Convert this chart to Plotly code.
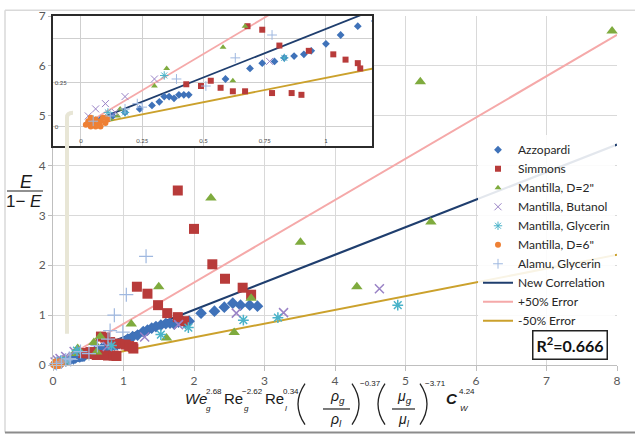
import plotly.graph_objects as go

# ---------------- data ----------------
azz_x = [0.03,0.08,0.13,0.18,0.24,0.29,0.32,0.34,0.36,0.38,0.40,0.42,0.44,0.59,0.69,0.74,0.79,0.83,0.87,0.91,
         0.94,1.00,1.06,1.13,1.20,1.28,1.34,1.40,1.46,1.53,1.60,1.66,1.72,1.78,1.83,1.88,1.93,2.10,2.29,2.43,
         2.55,2.66,2.79,2.90]
azz_y = [0.02,0.04,0.06,0.08,0.10,0.12,0.14,0.17,0.17,0.16,0.18,0.18,0.18,0.27,0.33,0.36,0.37,0.39,0.40,0.41,
         0.43,0.47,0.52,0.57,0.60,0.67,0.70,0.74,0.77,0.80,0.83,0.84,0.82,0.86,0.89,0.84,0.88,1.04,1.08,1.16,
         1.24,1.20,1.20,1.18]

sim_x = [0.43,0.49,0.53,0.57,0.62,0.67,0.68,0.74,0.78,0.81,0.86,0.90,0.93,1.03,1.08,1.13,1.14,1.19,1.34,1.49,
         1.62,1.77,1.86,1.77,2.00,2.26,2.44,2.69,2.81]
sim_y = [0.24,0.23,0.26,0.22,0.20,0.20,0.57,0.55,0.19,0.46,0.19,0.18,0.43,0.41,0.38,0.36,0.33,1.57,1.43,1.20,
         1.04,0.96,0.88,3.50,2.73,2.02,1.73,1.55,1.41]

m2_x = [0.12,0.15,0.16,0.30,0.35,0.58,0.62,0.67,1.11,1.50,1.61,2.24,2.57,2.81,3.51,4.31,5.21,5.36,7.93]
m2_y = [0.04,0.06,0.10,0.23,0.33,0.45,0.26,0.57,0.82,1.57,0.54,3.35,0.65,1.34,2.46,1.57,5.68,2.87,6.70]

but_x = [0.03,0.06,0.10,0.14,0.18,0.30,0.77,1.30,1.78,2.60,3.27,4.63]
but_y = [0.06,0.10,0.13,0.08,0.17,0.27,0.37,0.56,0.81,1.04,1.05,1.53]

gly_x = [0.05,0.11,0.18,0.34,0.83,1.53,1.92,2.70,3.19,4.89]
gly_y = [0.04,0.08,0.08,0.29,0.39,0.61,0.75,0.90,0.95,1.20]

m6_x = [0.02,0.03,0.04,0.05,0.06,0.07,0.08,0.09,0.10,0.11,0.04,0.06,0.08,0.10]
m6_y = [0.01,0.03,0.00,0.02,0.04,0.01,0.03,0.05,0.02,0.04,0.05,0.00,0.00,0.05]

ala_x = [0.05,0.12,0.18,0.23,0.25,0.39,0.51,0.63,0.78,0.81,0.87,0.99,1.04,1.32]
ala_y = [0.03,0.06,0.10,0.13,0.11,0.27,0.23,0.39,0.52,0.69,1.00,0.66,1.41,2.18]

line_x = [0.05, 8.0]
corr_y = [0.03, 4.42]
plus_y = [0.04, 6.62]
minus_y = [0.014, 2.21]

main_ticks = [0, 1, 2, 3, 4, 5, 6, 7, 8]
inset_xticks = [0, 0.25, 0.5, 0.75, 1]
inset_xtext = ["0", "0.25", "0.5", "0.75", "1"]
inset_yticks = [0, 0.25, 0.5]
inset_ytext = ["0", "0.25", ""]

# ---------------- styles ----------------
FONT = "Lato, 'Liberation Sans', sans-serif"
markers = [
    ("Azzopardi", azz_x, azz_y, "diamond", "#3f72b9", 9, 6, 0),
    ("Simmons", sim_x, sim_y, "square", "#b83b3a", 10, 6, 0),
    ("Mantilla, D=2\"", m2_x, m2_y, "triangle-up", "#7fab3e", 10, 6, 0),
    ("Mantilla, Butanol", but_x, but_y, "x-thin-open", "#9a83c6", 9, 7, 1.5),
    ("Mantilla, Glycerin", gly_x, gly_y, "asterisk-open", "#4ab3c9", 9, 7, 1.5),
    ("Mantilla, D=6\"", m6_x, m6_y, "circle", "#ee8035", 8, 6, 0),
    ("Alamu, Glycerin", ala_x, ala_y, "cross-thin-open", "#9fb8e0", 10, 7, 1.2),
]
lines = [
    ("New Correlation", corr_y, "#1f3e6e", 2.2),
    ("+50% Error", plus_y, "#f5a9a9", 2.0),
    ("-50% Error", minus_y, "#cba12c", 2.0),
]

fig = go.Figure()

# main chart
for name, ys, col, w in lines:
    fig.add_trace(go.Scatter(x=line_x, y=ys, mode="lines", name=name, showlegend=False,
                             line=dict(color=col, width=w)))
for name, xs, ys, sym, col, sz, isz, lw in markers:
    mk = dict(symbol=sym, size=sz, color=col)
    if lw:
        mk["line"] = dict(width=lw, color=col)
    fig.add_trace(go.Scatter(x=xs, y=ys, mode="markers", name=name, marker=mk,
                             cliponaxis=False, showlegend=False))

# inset (same data, zoomed) - its traces carry the legend entries (small symbols)
for i, (name, ys, col, w) in enumerate(lines):
    fig.add_trace(go.Scatter(x=line_x, y=ys, mode="lines", name=name, legendrank=100 + i,
                             line=dict(color=col, width=1.8), xaxis="x2", yaxis="y2"))
for i, (name, xs, ys, sym, col, sz, isz, lw) in enumerate(markers):
    mk = dict(symbol=sym, size=isz, color=col)
    if lw:
        mk["line"] = dict(width=1, color=col)
    fig.add_trace(go.Scatter(x=xs, y=ys, mode="markers", name=name, marker=mk, legendrank=10 + i,
                             xaxis="x2", yaxis="y2"))

# ---------------- layout helpers (pixel -> paper) ----------------
L, R, T, B = 53, 617, 8, 365
def X(p):
    return (p - L) / (R - L)
def Y(p):
    return (B - p) / (B - T)

ann = []
shapes = []

def txt(s, px, py, size, anchor="left", color="#1a1a1a", family="'Liberation Sans', Arial, sans-serif"):
    ann.append(dict(text=s, x=X(px), y=Y(py), xref="paper", yref="paper", showarrow=False,
                    xanchor=anchor, yanchor="middle",
                    font=dict(size=size, color=color, family=family)))

def paren(x_end, x_mid, y0, y1):
    cx = 2 * x_mid - x_end
    ym = (y0 + y1) / 2
    shapes.append(dict(type="path", xref="paper", yref="paper",
                       path=f"M {X(x_end)},{Y(y0)} Q {X(cx)},{Y(ym)} {X(x_end)},{Y(y1)}",
                       line=dict(color="#222", width=1.3)))

def hline(x0, x1, py, color="#222", width=1.2):
    shapes.append(dict(type="line", xref="paper", yref="paper", x0=X(x0), x1=X(x1),
                       y0=Y(py), y1=Y(py), line=dict(color=color, width=width)))

# x-axis title formula
txt("<i>We</i>", 183, 399, 15)
txt("2.68", 204, 392, 8)
txt("<i>g</i>", 204, 409, 8)
txt("Re", 222, 399, 15)
txt("−2.62", 240, 392, 8)
txt("<i>g</i>", 242, 409, 8)
txt("Re", 263, 399, 15)
txt("0.34", 281, 392, 8)
txt("<i>l</i>", 283, 409, 8)
paren(305, 298, 384, 426)
txt("<i>ρ<sub>g</sub></i>", 337, 398, 14, anchor="center")
hline(323, 350, 410)
txt("<i>ρ<sub>l</sub></i>", 336, 421, 14, anchor="center")
paren(352, 359, 384, 426)
txt("−0.37", 358, 384, 8)
paren(385, 378, 384, 426)
txt("<i>μ<sub>g</sub></i>", 404, 398, 14, anchor="center")
hline(392, 415, 410)
txt("<i>μ<sub>l</sub></i>", 404, 421, 14, anchor="center")
paren(420, 427, 384, 426)
txt("−3.71", 423, 384, 8)
txt("<i><b>C</b></i>", 444, 399, 15)
txt("4.24", 457, 392, 8)
txt("<i>W</i>", 458, 409, 8)

# y-axis title
txt("<i>E</i>", 26, 178, 18, anchor="center")
hline(7, 43, 187, width=1.2)
txt("1− <i>E</i>", 24, 198, 17, anchor="center")

# R^2 box
ann.append(dict(text="<b>R<sup>2</sup>=0.666</b>", x=X(570), y=Y(345), xref="paper", yref="paper",
                showarrow=False, xanchor="center", yanchor="middle",
                font=dict(size=16, color="#111", family=FONT),
                bordercolor="#222", borderwidth=1.5, borderpad=3, bgcolor="white"))

# beige artefact bar
shapes.append(dict(type="path", xref="paper", yref="paper", layer="above",
                   path=f"M {X(67)},{Y(333)} L {X(67)},{Y(112)} Q {X(67)},{Y(107)} {X(73)},{Y(107)}",
                   line=dict(color="#e8e6d6", width=4)))

# outer frame of the picture
shapes.append(dict(type="line", xref="paper", yref="paper", x0=X(5), x1=X(640), y0=Y(2), y1=Y(2),
                   line=dict(color="#d9d9d9", width=1.5)))
shapes.append(dict(type="line", xref="paper", yref="paper", x0=X(5), x1=X(5), y0=Y(2), y1=Y(434),
                   line=dict(color="#d9d9d9", width=1.5)))
shapes.append(dict(type="line", xref="paper", yref="paper", x0=X(5), x1=X(640), y0=Y(434), y1=Y(434),
                   line=dict(color="#8c8c8c", width=2)))

fig.update_layout(
    width=635, height=437,
    margin=dict(l=L, r=635 - R, t=T, b=437 - B),
    paper_bgcolor="white", plot_bgcolor="white",
    font=dict(family=FONT, size=12, color="#595959"),
    xaxis=dict(range=[0, 8], tickvals=main_ticks, showgrid=True, gridcolor="#d9d9d9", gridwidth=1,
               zeroline=False, showline=True, linecolor="#bfbfbf", ticks="outside", ticklen=5,
               tickcolor="#bfbfbf", tickfont=dict(size=12, color="#595959")),
    yaxis=dict(range=[0, 7], tickvals=main_ticks[:8], showgrid=True, gridcolor="#d9d9d9", gridwidth=1,
               zeroline=False, showline=True, linecolor="#bfbfbf", ticks="outside", ticklen=4,
               tickcolor="#bfbfbf", tickfont=dict(size=12, color="#595959")),
    xaxis2=dict(domain=[X(53), X(372)], anchor="y2", range=[-0.114, 1.188],
                tickvals=inset_xticks, ticktext=inset_xtext, ticklabelposition="inside",
                showgrid=True, gridcolor="#cfcfcf", zeroline=False,
                showline=True, mirror=True, linecolor="#2b2b2b", linewidth=2,
                tickfont=dict(size=6, color="#444")),
    yaxis2=dict(domain=[Y(141), Y(8)], anchor="x2", range=[-0.111, 0.628],
                tickvals=inset_yticks, ticktext=inset_ytext, ticklabelposition="inside",
                showgrid=True, gridcolor="#cfcfcf", zeroline=False,
                showline=True, mirror=True, linecolor="#2b2b2b", linewidth=2,
                tickfont=dict(size=6, color="#444")),
    legend=dict(x=X(478), y=Y(130), xanchor="left", yanchor="top",
                bgcolor="rgba(255,255,255,0.88)", borderwidth=0,
                font=dict(size=12, color="#262626", family=FONT),
                itemwidth=30, tracegroupgap=0),
    annotations=ann,
    shapes=shapes,
)

fig.write_html("out.html", config={"displayModeBar": False},
               post_script="document.body.style.margin='0px';")
